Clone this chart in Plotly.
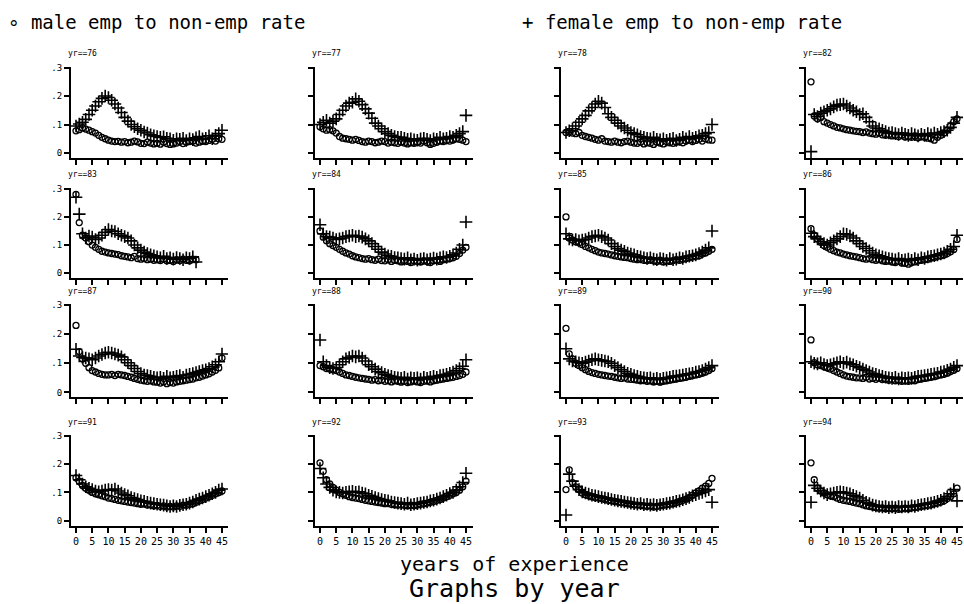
import plotly.graph_objects as go

# ---------------- data (rates in thousandths) ----------------
years = [76, 77, 78, 82, 83, 84, 85, 86, 87, 88, 89, 90, 91, 92, 93, 94]
experience = list(range(0, 46))

male_76 = [78, 82, 88, 84, 80, 75, 70, 62, 55, 50, 45, 42, 40, 41, 38, 40, 36, 38, 42, 39, 34, 33, 38, 35, 32,
           34, 31, 38, 33, 30, 32, 35, 40, 33, 38, 40, 42, 35, 38, 42, 40, 44, 48, 42, 50, 48]
female_76 = [95, 102, 108, 118, 135, 150, 165, 180, 192, 200, 195, 185, 172, 158, 142, 125, 112, 100, 92, 85,
             80, 74, 70, 64, 60, 58, 55, 57, 52, 50, 45, 50, 48, 52, 44, 50, 47, 53, 58, 50, 52, 60, 50, 62, 68, 80]
male_77 = [92, 85, 80, 82, 78, 70, 58, 52, 50, 48, 45, 48, 44, 40, 38, 42, 40, 36, 38, 42, 40, 35, 38, 36, 34,
           38, 35, 32, 36, 34, 38, 35, 42, 36, 30, 34, 38, 42, 40, 44, 42, 46, 50, 48, 45, 40]
female_77 = [100, 108, 115, 105, 112, 120, 135, 150, 165, 175, 178, 190, 182, 170, 155, 140, 122, 105, 95, 85,
             75, 68, 62, 58, 55, 55, 52, 48, 50, 46, 45, 50, 52, 48, 44, 50, 48, 55, 50, 52, 58, 55, 62, 68, 75, 132]
male_78 = [72, 75, 70, 68, 72, 62, 58, 55, 52, 48, 45, 50, 42, 40, 38, 42, 38, 36, 40, 42, 38, 35, 34, 38, 32,
           36, 34, 30, 38, 35, 32, 40, 36, 34, 38, 40, 36, 42, 45, 40, 44, 48, 42, 50, 46, 45]
female_78 = [72, 78, 85, 95, 108, 120, 132, 148, 160, 172, 182, 175, 160, 138, 125, 115, 105, 95, 88, 80,
             72, 68, 64, 58, 55, 52, 50, 55, 48, 46, 50, 45, 48, 52, 44, 48, 55, 50, 58, 52, 55, 60, 62, 68, 72, 100]
male_82 = [250, 130, 120, 125, 110, 105, 100, 95, 90, 88, 85, 82, 80, 78, 76, 75, 72, 74, 70, 68, 66, 70, 64, 62, 65,
           60, 62, 58, 62, 56, 58, 55, 60, 54, 58, 55, 52, 50, 45, 55, 62, 70, 80, 95, 110, 120]
female_82 = [5, 135, 128, 140, 145, 150, 155, 162, 168, 170, 172, 165, 158, 150, 145, 135, 138, 125, 110, 95,
             88, 85, 80, 75, 70, 72, 68, 65, 70, 66, 62, 68, 64, 60, 66, 62, 68, 64, 70, 66, 72, 75, 80, 90, 105, 125]
male_83 = [280, 180, 135, 125, 112, 100, 92, 85, 78, 75, 72, 70, 68, 66, 62, 60, 58, 55, 60, 52, 50, 52, 48, 50, 46,
           48, 45, 50, 44, 46, 42, 48, 45, 50, 46, 44, 50, 48] + [None] * 8
female_83 = [270, 210, 140, 125, 132, 128, 120, 125, 135, 145, 155, 150, 148, 140, 135, 130, 125, 115, 100, 90,
             82, 75, 70, 65, 62, 58, 55, 60, 52, 55, 50, 56, 52, 48, 55, 52, 58, 40] + [None] * 8
male_84 = [150, 128, 115, 105, 98, 92, 85, 78, 72, 68, 62, 58, 55, 52, 50, 52, 48, 46, 50, 45, 44, 48, 42, 46, 44,
           40, 45, 42, 38, 44, 42, 40, 45, 42, 38, 44, 46, 42, 48, 50, 52, 55, 60, 70, 82, 92]
female_84 = [172, 140, 130, 128, 125, 120, 122, 125, 130, 132, 135, 130, 132, 128, 122, 115, 105, 95, 85, 75,
             68, 62, 60, 56, 55, 52, 50, 55, 48, 50, 46, 50, 52, 48, 50, 54, 50, 55, 58, 56, 60, 65, 72, 85, 100, 182]
male_85 = [200, 125, 118, 112, 108, 102, 95, 90, 85, 80, 75, 72, 70, 68, 65, 62, 60, 58, 56, 55, 52, 50, 48, 52, 46,
           45, 48, 44, 42, 46, 40, 44, 42, 45, 48, 46, 50, 52, 55, 58, 60, 62, 68, 72, 78, 85]
female_85 = [140, 122, 118, 120, 115, 118, 120, 125, 130, 132, 135, 130, 125, 118, 105, 95, 88, 82, 78, 72,
             68, 65, 60, 58, 55, 52, 55, 50, 48, 52, 50, 46, 52, 48, 50, 55, 52, 58, 60, 62, 65, 70, 75, 82, 90, 150]
male_86 = [158, 135, 122, 110, 98, 92, 85, 80, 75, 72, 68, 65, 62, 60, 58, 55, 52, 50, 52, 48, 46, 48, 44, 42, 45,
           40, 38, 42, 36, 35, 32, 38, 40, 44, 46, 48, 50, 54, 56, 60, 62, 65, 70, 76, 84, 120]
female_86 = [142, 130, 122, 112, 105, 100, 108, 115, 122, 130, 140, 138, 132, 125, 115, 105, 95, 88, 80, 72,
             65, 62, 58, 55, 52, 50, 48, 52, 46, 48, 50, 46, 52, 48, 55, 52, 58, 60, 62, 65, 68, 72, 78, 85, 95, 135]
male_87 = [230, 140, 115, 100, 85, 75, 70, 65, 62, 60, 60, 62, 58, 62, 60, 58, 55, 52, 48, 45, 42, 40, 38, 40, 36,
           35, 32, 36, 30, 34, 32, 36, 38, 40, 42, 44, 46, 50, 52, 56, 60, 64, 70, 76, 84, 118]
female_87 = [148, 125, 120, 118, 115, 112, 118, 125, 130, 135, 138, 135, 132, 128, 122, 112, 102, 92, 82, 72,
             65, 60, 58, 55, 52, 50, 52, 48, 55, 50, 52, 55, 58, 52, 60, 62, 65, 68, 72, 75, 78, 82, 88, 95, 105, 132]
male_88 = [92, 88, 82, 80, 78, 75, 70, 65, 60, 58, 55, 52, 50, 48, 46, 45, 42, 44, 40, 42, 38, 40, 36, 40, 38,
           35, 38, 34, 36, 40, 36, 34, 38, 40, 36, 40, 42, 44, 46, 48, 50, 52, 55, 58, 62, 70]
female_88 = [180, 105, 92, 85, 82, 85, 95, 105, 115, 120, 125, 122, 125, 118, 108, 95, 88, 80, 72, 68,
             62, 58, 55, 52, 50, 48, 52, 46, 50, 48, 50, 46, 52, 48, 52, 55, 52, 58, 60, 62, 66, 70, 75, 82, 90, 112]
male_89 = [220, 132, 115, 100, 92, 85, 78, 72, 68, 65, 62, 60, 58, 56, 55, 52, 50, 48, 50, 46, 45, 44, 42, 40, 42,
           38, 40, 36, 38, 35, 38, 40, 42, 44, 46, 48, 50, 52, 55, 58, 60, 62, 66, 70, 75, 82]
female_89 = [150, 115, 108, 105, 102, 100, 104, 108, 112, 115, 112, 110, 108, 105, 100, 92, 85, 78, 72, 66,
             62, 58, 55, 52, 50, 48, 50, 46, 48, 45, 48, 50, 52, 55, 56, 58, 60, 62, 64, 66, 70, 72, 75, 80, 85, 92]
male_90 = [180, 102, 95, 92, 88, 85, 80, 75, 70, 65, 60, 56, 54, 52, 50, 50, 48, 52, 46, 48, 45, 48, 44, 46, 42,
           44, 40, 42, 38, 40, 38, 42, 40, 44, 46, 48, 50, 52, 54, 58, 60, 62, 66, 72, 76, 82]
female_90 = [105, 100, 98, 102, 96, 92, 95, 98, 102, 105, 100, 104, 98, 95, 90, 85, 80, 75, 70, 65,
             62, 58, 55, 52, 50, 48, 52, 46, 50, 48, 50, 48, 52, 55, 56, 58, 60, 62, 64, 66, 70, 72, 76, 80, 86, 92]
male_91 = [152, 140, 125, 115, 108, 100, 95, 92, 88, 85, 80, 78, 75, 72, 70, 68, 66, 64, 62, 60, 58, 60, 55, 56, 52,
           54, 50, 52, 48, 50, 48, 52, 50, 55, 54, 58, 60, 65, 70, 75, 80, 85, 90, 95, 100, 105]
female_91 = [160, 145, 130, 120, 115, 110, 105, 102, 105, 108, 110, 108, 112, 105, 98, 92, 88, 82, 78, 75,
             70, 68, 65, 62, 60, 58, 56, 55, 52, 50, 52, 50, 54, 56, 58, 62, 66, 72, 76, 80, 85, 90, 95, 100, 108, 112]
male_92 = [205, 175, 145, 130, 118, 108, 100, 95, 90, 85, 82, 80, 78, 75, 72, 70, 68, 66, 64, 62, 60, 62, 58, 56, 55,
           56, 54, 52, 55, 53, 55, 58, 60, 62, 65, 68, 72, 75, 80, 85, 90, 95, 100, 108, 120, 140]
female_92 = [185, 152, 130, 118, 108, 102, 100, 98, 100, 102, 104, 100, 102, 98, 95, 90, 86, 82, 78, 75,
             72, 70, 66, 64, 62, 60, 58, 62, 56, 58, 60, 62, 64, 66, 70, 72, 76, 80, 85, 90, 96, 100, 108, 120, 135, 168]
male_93 = [110, 180, 135, 120, 110, 98, 92, 88, 85, 82, 80, 78, 75, 72, 70, 68, 66, 64, 62, 60, 58, 56, 55, 54, 52,
           50, 52, 48, 50, 52, 54, 56, 58, 60, 64, 68, 72, 76, 82, 90, 98, 105, 115, 122, 132, 150]
female_93 = [20, 165, 140, 122, 110, 102, 98, 94, 90, 88, 85, 82, 80, 78, 75, 72, 70, 68, 66, 64,
             62, 60, 58, 60, 56, 58, 55, 57, 54, 56, 58, 60, 62, 65, 68, 70, 74, 78, 82, 88, 92, 96, 100, 105, 110, 65]
male_94 = [205, 145, 115, 105, 98, 92, 88, 85, 80, 75, 72, 70, 68, 65, 62, 60, 56, 52, 50, 48, 46, 44, 45, 42, 44,
           42, 44, 40, 42, 44, 42, 45, 46, 48, 50, 52, 54, 56, 60, 62, 66, 70, 78, 85, 95, 115]
female_94 = [65, 125, 115, 105, 98, 92, 95, 98, 100, 102, 100, 98, 95, 90, 85, 80, 72, 65, 60, 55,
             52, 50, 48, 50, 46, 48, 46, 50, 48, 50, 48, 52, 50, 54, 56, 58, 60, 62, 65, 68, 72, 78, 85, 95, 110, 70]

male = [male_76, male_77, male_78, male_82, male_83, male_84, male_85, male_86,
        male_87, male_88, male_89, male_90, male_91, male_92, male_93, male_94]
female = [female_76, female_77, female_78, female_82, female_83, female_84, female_85, female_86,
          female_87, female_88, female_89, female_90, female_91, female_92, female_93, female_94]

y_tickvals = [0, 0.1, 0.2, 0.3]
y_ticktext = ["0", ".1", ".2", ".3"]
x_tickvals = [0, 5, 10, 15, 20, 25, 30, 35, 40, 45]
x_ticktext = ["0", "5", "10", "15", "20", "25", "30", "35", "40", "45"]

# ---------------- layout geometry (pixels) ----------------
W, H = 964, 604
cols = [(71, 228), (315, 473), (561, 719), (806, 963)]
rows = [(150, 64), (271, 186), (391, 303), (520, 435)]   # pixel of y=0, y=.3
FONT = "DejaVu Sans Mono"

fig = go.Figure()
layout = dict(width=W, height=H, margin=dict(l=0, r=0, t=0, b=0),
              paper_bgcolor="white", plot_bgcolor="white", showlegend=False)
annotations = []

def scale(v):
    return None if v is None else v / 1000.0

for i, yr in enumerate(years):
    r, c = divmod(i, 4)
    left, right = cols[c]
    y0px, y3px = rows[r]
    top, bottom = y3px - 1, y0px + 5
    xper = 45.0 / 146.0
    xlo = -5 * xper
    xhi = 45 + (right - (left + 151)) * xper
    yper = 0.3 / (y0px - y3px)
    ylo = -(bottom - y0px) * yper
    yhi = 0.3 + (y3px - top) * yper
    n = i + 1
    xa = "x" if n == 1 else f"x{n}"
    ya = "y" if n == 1 else f"y{n}"
    fig.add_trace(go.Scatter(x=experience, y=[scale(v) for v in male[i]], mode="markers",
                             xaxis=xa, yaxis=ya, name="male emp to non-emp rate",
                             marker=dict(symbol="circle-open", size=6, color="black",
                                         line=dict(width=1.3, color="black"))))
    fig.add_trace(go.Scatter(x=experience, y=[scale(v) for v in female[i]], mode="markers",
                             xaxis=xa, yaxis=ya, name="female emp to non-emp rate",
                             marker=dict(symbol="cross-thin-open", size=9, color="black",
                                         line=dict(width=1.6, color="black"))))
    xkey = "xaxis" if n == 1 else f"xaxis{n}"
    ykey = "yaxis" if n == 1 else f"yaxis{n}"
    layout[xkey] = dict(domain=[left / W, right / W], range=[xlo, xhi], anchor=ya,
                        showline=True, linecolor="black", linewidth=2, showgrid=False,
                        zeroline=False, ticks="outside", ticklen=5, tickwidth=1.5, tickcolor="black",
                        tickvals=x_tickvals, ticktext=x_ticktext, tickangle=0,
                        showticklabels=(r == 3), tickfont=dict(family=FONT, size=10, color="black"))
    layout[ykey] = dict(domain=[1 - bottom / H, 1 - top / H], range=[ylo, yhi], anchor=xa,
                        showline=True, linecolor="black", linewidth=2, showgrid=False,
                        zeroline=False, ticks="outside", ticklen=5, tickwidth=1.5, tickcolor="black",
                        tickvals=y_tickvals, ticktext=y_ticktext,
                        showticklabels=(c == 0), tickfont=dict(family=FONT, size=9, color="black"))
    annotations.append(dict(text=f"yr=={yr}", x=(left - 5) / W, y=1 - (top - 13) / H,
                            xref="paper", yref="paper", xanchor="left", yanchor="middle",
                            showarrow=False, font=dict(family=FONT, size=8, color="black")))

annotations += [
    dict(text="\u2218 male emp to non-emp rate", x=6 / W, y=1 - 18 / H, xref="paper", yref="paper",
         xanchor="left", yanchor="middle", showarrow=False, font=dict(family=FONT, size=19, color="black")),
    dict(text="+ female emp to non-emp rate", x=520 / W, y=1 - 18 / H, xref="paper", yref="paper",
         xanchor="left", yanchor="middle", showarrow=False, font=dict(family=FONT, size=19, color="black")),
    dict(text="years of experience", x=514 / W, y=1 - 564 / H, xref="paper", yref="paper",
         xanchor="center", yanchor="middle", showarrow=False, font=dict(family=FONT, size=20, color="black")),
    dict(text="Graphs by year", x=514 / W, y=1 - 588 / H, xref="paper", yref="paper",
         xanchor="center", yanchor="middle", showarrow=False, font=dict(family=FONT, size=25, color="black")),
]
layout["annotations"] = annotations
fig.update_layout(**layout)
fig.write_html("out.html")
